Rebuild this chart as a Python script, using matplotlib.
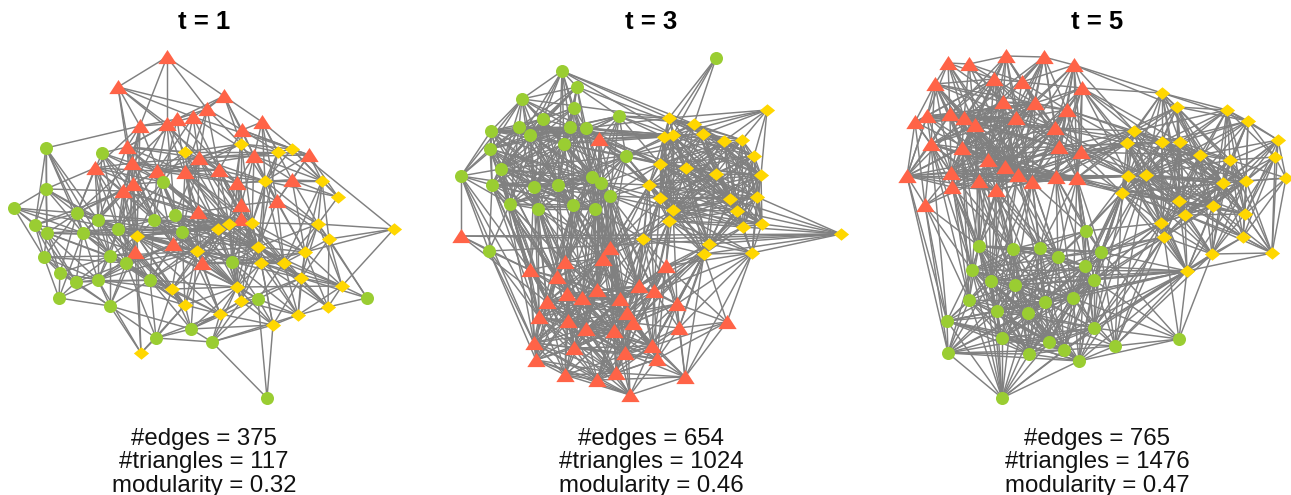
import matplotlib
matplotlib.use('Agg')
import matplotlib.pyplot as plt
from matplotlib.collections import LineCollection

plt.rcParams['font.family'] = ['Liberation Sans', 'DejaVu Sans']

# node layouts (x, y in image pixels), one list per community
t1_red = [(167,57),(118,87),(224,96),(207,109),(193,117),(177,119),(167,124),(140,126),(242,130),(262,122),
          (127,147),(199,158),(254,156),(309,155),(132,163),(95,168),(157,171),(185,172),(219,170),(237,183),
          (292,180),(133,184),(123,191),(277,201),(241,205),(198,212),(241,219),(173,244),(135,252),(202,263)]
t1_yellow = [(241,144),(185,152),(278,152),(292,149),(265,181),(322,181),(338,197),(394,229),(318,224),(329,239),
             (252,223),(229,224),(218,229),(137,236),(197,251),(258,247),(305,252),(261,263),(284,263),(301,278),
             (342,286),(237,287),(172,289),(241,301),(185,305),(328,307),(298,315),(220,314),(273,325),(141,353)]
t1_green = [(46,148),(102,153),(163,182),(46,189),(14,208),(77,213),(98,220),(154,220),(175,215),(35,225),
            (47,233),(83,233),(118,229),(182,232),(44,257),(110,256),(126,263),(232,262),(60,273),(76,282),
            (98,280),(150,280),(59,298),(110,306),(258,299),(367,298),(191,329),(156,338),(212,342),(267,398)]

t3_red = [(599,139),(461,236),(610,248),(603,259),(565,262),(530,270),(666,266),(557,277),(639,286),(654,291),
          (597,290),(567,294),(582,298),(620,299),(547,302),(677,304),(627,313),(539,317),(568,321),(633,323),
          (727,322),(679,328),(586,329),(614,331),(534,343),(652,346),(574,348),(625,353),(536,360),(657,359),
          (616,373),(565,375),(685,377),(597,380),(630,395)]
t3_yellow = [(767,110),(669,118),(694,124),(703,134),(673,135),(664,137),(724,141),(742,140),(754,156),(660,164),
             (686,168),(716,174),(761,175),(649,185),(660,198),(757,197),(730,199),(737,211),(673,210),(669,221),
             (762,224),(743,227),(841,234),(643,239),(709,244),(752,253),(704,254)]
t3_green = [(716,58),(562,71),(577,87),(522,99),(574,108),(619,116),(543,119),(519,127),(570,127),(586,128),
            (491,131),(530,135),(564,144),(490,149),(626,156),(501,169),(461,176),(592,177),(601,183),(492,185),
            (534,187),(558,185),(610,196),(510,204),(573,205),(538,209),(595,209),(489,251)]

t5_red = [(948,63),(969,64),(1006,56),(1044,57),(1074,65),(935,84),(994,79),(1022,82),(1082,88),(1003,102),
          (1035,103),(1067,110),(915,122),(927,116),(950,114),(964,118),(975,125),(1016,118),(1055,128),(931,144),
          (962,148),(1059,147),(1081,152),(988,160),(1005,167),(907,176),(951,173),(1018,175),(979,181),(1032,182),
          (1056,177),(1077,178),(952,187),(996,190),(925,205)]
t5_yellow = [(1162,93),(1177,107),(1227,110),(1248,121),(1134,131),(1127,143),(1162,142),(1180,142),(1278,140),(1200,155),
             (1230,160),(1275,157),(1128,176),(1146,175),(1286,178),(1223,183),(1246,181),(1122,193),(1179,201),(1213,206),
             (1185,215),(1245,214),(1161,223),(1164,237),(1243,237),(1212,254),(1272,253),(1187,271)]
t5_green = [(1086,231),(979,246),(1013,249),(1040,248),(1058,257),(1101,252),(1085,266),(972,270),(991,281),(1015,285),
            (1094,280),(969,300),(1073,298),(1045,302),(997,311),(1028,313),(947,321),(1094,328),(1002,338),(1049,342),
            (1179,339),(1115,346),(1064,350),(948,353),(1029,354),(1079,361),(1002,398)]

# adjacency, first name on a line links to the others (estimated inside the dense parts)
t1_edges = """
r0 r1 r7 r3 r2 r6
r1 r10 r7 r3 r4 r6 r14 r18
r2 r3 r4 r5 r8 r9 r12 y0
r3 r5 r8 r11 r17 r18 y0
r4 r6 r11 r12 r16 r18 y1 y3
r5 r7 r10 r14 r17 r19 g2
r6 r7 r10 r11 r16 r21 r25 y1 g8
r7 r10 r14 r15 r21 r22 g0 g2 g12 y13
r8 r9 r12 r13 r18 r19 y0 y2 y3 r24
r9 y7 r12 y2 r20 y4 r23
r10 r14 r16 r21 g1 g6 g7 y1 y12 r27 r28
r11 r17 r18 r19 r25 y1 y11 y15 g8 g13
r12 r13 r19 r20 r23 y2 y4 y5 y10 r24
r13 r20 y2 y3 y4 y5 y6 r23
r14 r15 r16 r21 r22 g1 g5 g7 y13
r15 r16 r21 r22 g3 g5 g6 g12 g15
r16 r17 r22 r25 r27 g2 g7 g8 y14 g12
r17 r18 r25 r26 y11 g13 y15 y4 r29
r18 r19 r24 r26 y10 y12 y17
r19 r20 r23 r24 r26 y4 y10 y15 g17
r20 r23 y4 y5 y6 y8 y16
r21 r22 r28 g1 g2 g5 g6 g7 g12 g16 r27
r22 g3 g5 g6 g9 g11 g12 r28 g16 y13
r23 y4 y8 y9 y15 y16 y18 r24
r24 r26 r25 y10 y11 y12 y17 r29
r25 r26 r27 r29 g13 y11 y14 g17
r26 y10 y15 y17 y18 r29 g17
r27 r29 g7 g13 y13 y14 g21 g16
r28 g12 g15 g16 y13 g11 g20 g23 y22 y29
r29 y14 y15 y21 y22 y27 g17 g24 y17
g0 g3 g5 g6 g10 g9 g11 g15
g1 g2 g5 g6 g7 g12 r22
g2 g7 g8 g12 g13 y1 y13
g3 g4 g5 g6 g9 g10 g11 g12
g4 g5 g9 g10 g12 g14 g11
g5 g6 g9 g10 g11 g12 g7 g14 g15 g18
g6 g7 g11 g12 g13 g15 g16 y13 g20
g7 g8 g12 g13 y13 y14 y12 g21
g8 g13 y11 y12 y14 g17
g9 g10 g14 g11 g18 g19
g10 g11 g14 g15 g18 g19 g20
g11 g12 g15 g16 g19 g20 g22
g12 g13 g15 g16 y13 g21 y14 g20
g13 y12 y14 y11 g17 g21 y21
g14 g15 g18 g19 g22 g16 g20
g15 g16 g18 g19 g20 g21 g23 y13
g16 g20 g21 g23 y22 y14 g27
g17 y15 y17 y14 y18 y21 y23 g24 y19
g18 g19 g20 g22 g23
g19 g20 g22 g23 g16 g21
g20 g21 g22 g23 y22 y29
g21 y22 y14 y24 g27 y21 g23 g26
g22 g23
g23 g26 y29 g27
g24 y21 y23 y28 y19 y26 y18 g28 g26
g25 y20 y9 y8 y25 y19
g26 g27 g28 y21 y24 y27 y22 y23 y28
g27 g28 y29 y24 y22 y27
g28 g29 y27 y28 y23 y21 y26
g29 y28 g24
y0 y1 y2 y3 y4 y11 y10
y1 y2 y11 y12 y14
y2 y3 y4 y5 y10 y15
y3 y4 y5 y6
y4 y5 y6 y8 y10 y15 y16 y17 y18
y5 y6 y8 y9 y16 y18
y6 y8
y7 y8 y9 y16 y20
y8 y9 y10 y15 y16 y18 y19 y20
y9 y16 y19 y20 y25
y10 y11 y12 y15 y17 y21 y18 y19
y11 y12 y14 y15 y17 y21 y23
y12 y13 y14 y15 y22 y21
y13 y14 y22 y27 y29
y14 y15 y21 y22 y24 y27
y15 y16 y17 y18 y19 y21 y23
y16 y18 y19 y20 y25 y26
y17 y18 y19 y21 y23 y26 y28
y18 y19 y20 y26 y25
y19 y20 y25 y26 y28 y23
y20 y25 y26 y21
y21 y22 y23 y24 y27 y28
y22 y24 y27
y23 y26 y27 y28
y24 y27 y29
y25 y26
y26 y28
y27 y28
r16 r18 r19 y0 y1 y2
r10 r11 r17 y1
r14 r17 r18 r11 y11
r15 y13 g2 g7
r21 r16 r25 y13 y14 y11
r22 r25 y14 y11
r17 r19 y0 y10 y12
r11 r12 y0 y2 y4 y10
r18 y4 y11 y15
r25 y10 y15 y21
r26 y11 y21 y14
g2 y12 y11 r25
g7 r27 y15 y11 y10 y21
g8 y10 y15 y17 y21
g12 y11 y12 y21 y24 r29 g17
g13 y10 y15 y22 y24 y27
y13 y11 y12 y10 y15 y21 y24 g17
y14 y10 y17 y18 g26
g6 y14 g21 y24 y22
g15 y22 y14 y24
g16 y13 y11
y11 y16 y18 y19
y10 y16 y23
y12 y17 y19 y23 y24
g17 y10 y11 y12 y26 y16
y15 y20 y26 y25 y28
y17 y20 y16 y25
g10 g12 y13 g16
g11 y13 g21 g13
g5 y13 r27
g20 r27 y14 y24
g21 y27 y12
"""

t3_edges = """
g0 y1 y2 y4 y5
g1 g2 g3 g4 g6 g8 y1 y4 g12
g2 g4 g5 g6 g8 g9 g12 y3 g17 g3
g3 g6 g7 g10 g11 g8 g12 g15 g13
g4 g6 g8 g9 g11 g12 g17 g21
g5 g9 g12 y2 y5 g14 r0 g22
g6 g7 g8 g11 g12 g15 g20 g21 g24
g7 g10 g11 g12 g15 g19 g20 g23 r0
g8 g9 g11 g12 g17 g18 g21 g24 g26 g14
g9 g12 g14 g17 g18 r0 g21 g22 y5 g26
g10 g13 g16 g15 g19 g11 g12 g20 g23 r0 y4
g11 g12 g15 g17 g19 g20 g21 g23 g25 g24
g12 g14 g15 g17 g18 g20 g21 g22 g24 g25 g26 r0
g13 g15 g16 g19 g20 g23 g17 g21
g14 g17 g18 g22 g26 y9 y13 r0 y5 r2
g15 g16 g19 g20 g21 g23 g25 g17 g24
g16 g19 g23 r1 g27 g7 g3 g20 r5
g17 g18 g21 g22 g24 g25 g26 r2 r3
g18 g21 g22 g24 g26 y13 r2 r3
g19 g20 g23 g21 g25 g27 g24 r5 r7
g20 g21 g23 g24 g25 g26 r4 r7
g21 g24 g25 g26 g22 r3 r4
g22 g24 g26 r2 r3 y13 y14 r13
g23 g25 g24 g27 r5 r7 r14 r4
g24 g25 g26 r4 r3 r11 r12
g25 g26 r4 r5 r7 r11 r14
g26 r2 r3 r8 r10 r12 r13 y23
g27 r1 r5 r17 r24 y22 r28
r0 y9 y5 r2 r3
r1 y22 r5 r14 y23
y0 y1 y2 y3 y6 y7 y8 y12 y4
y1 y2 y3 y4 y5 y9 y10 y14
y2 y3 y4 y5 y6 y7 y10 y11
y3 y4 y5 y6 y7 y8 y10 y11 y12
y4 y5 y9 y10 y13 y14 y18 y19 y6
y5 y9 y10 y13 y14 y18 y19 y16
y6 y7 y8 y10 y11 y12 y15 y16 y17
y7 y8 y11 y12 y15 y16 y20
y8 y11 y12 y15 y16 y17 y20 y21
y9 y10 y13 y14 y18 y19 y11 y16 y24
y10 y11 y14 y16 y17 y18 y19 y13 y24
y11 y12 y14 y15 y16 y17 y18 y21 y24
y12 y15 y16 y17 y20 y21 y25
y13 y14 y18 y19 y23 y24 r2
y14 y18 y19 y23 y24 y26 y16
y15 y16 y17 y20 y21 y22 y25
y16 y17 y18 y20 y21 y24 y25 y26
y17 y18 y20 y21 y22 y24 y25
y18 y19 y23 y24 y26 y21
y19 y23 y24 y26 y21 r6
y20 y21 y22 y25
y21 y22 y24 y25 y26
y22 y25 y23 y24 y26
y23 y24 y26 r2 r6 r15
y24 y25 y26 r6 r15 r21
y25 y26 r32 r15 r20 r21
y26 r6 r15 r20 r32 r21
r2 r3 r8 r10 r13 r12 r16 r19 r23
r3 r4 r8 r10 r11 r12 r13 r16 r22 r23
r4 r5 r7 r10 r11 r12 r14 r17 r18 r13
r5 r7 r14 r17 r24 r11 r28
r6 r8 r9 r13 r15 r16 r21 r19 r25 r20
r7 r11 r12 r14 r17 r18 r10 r22
r8 r9 r10 r13 r15 r16 r19 r23 r25
r9 r13 r15 r16 r19 r21 r25 r27
r10 r11 r12 r13 r16 r18 r22 r23 r26
r11 r12 r14 r17 r18 r22 r26 r24
r12 r13 r14 r16 r18 r22 r23 r26 r27
r13 r16 r19 r22 r23 r25 r27 r30
r14 r17 r18 r22 r24 r26 r28
r15 r16 r19 r21 r25 r20 r29 r32
r16 r19 r22 r23 r25 r27 r29 r30
r17 r18 r24 r26 r28 r22 r31
r18 r22 r24 r26 r28 r31 r30 r23
r19 r23 r25 r27 r29 r30 r21 r32
r20 r21
r21 r25 r29 r32 r27
r22 r23 r26 r27 r30 r31 r33
r23 r26 r27 r30 r33 r25 r34
r24 r26 r28 r31 r33 r30
r25 r27 r29 r30 r32 r33 r34
r26 r27 r28 r30 r31 r33
r27 r29 r30 r33 r34 r32
r28 r31 r33 r30 r34
r29 r30 r32 r34 r33
r30 r31 r33 r34
r31 r33 r34
r32 r33 r34
r33 r34
g3 g9 g17 g21 g20
g4 g7 g15 g20 g24 g18
g5 g8 g12 g18 g17 g11
g6 g17 g18 g13 g10 g23 g25
g7 g8 g9 g13 g17 g21 g24
g10 g8 g9 g21 g24 g25 g17
g11 g9 g13 g18 g26 g22
g13 g8 g9 g24 g25 g18
g15 g8 g9 g18 g22 g26
g19 g8 g12 g17 g18 g26
g20 g8 g9 g17 g18 g22
g23 g12 g17 g21 g26 g18
g14 g21 g24 g12 g15 g20
g1 g11 g15 g21 g17
g2 g11 g15 g21 g7
g5 y1 y4 y9
g9 y4 y1 y9 y13
g14 y4 y10 y14 y18 y3 y6
g8 y5 y4 y9
g12 y5 y9 y13
r0 y4 y13 y14 y10
g22 y9 y18 y19 y23
g18 y9 y14 y18
g10 y5
g7 y5
g3 y1
y2 g1
g23 r17 r11
g24 r2 r7 r10 r14 r13 r17 r18
g25 r2 r3 r10 r17 r12
g26 r4 r7 r11 r16 r22
g22 r4 r8 r10 r9 r16 r23 r12
g21 r2 r7 r11 r10
g20 r3 r5 r11 r14 r10 r17
g19 r4 r11 r14 r17
g15 r7 r17 r14 r24
g16 r17 r24
g13 r5 r14 r7
g17 r4 r8 r10 r13 r12
g18 r4 r8 r9 r13 r16 r10
y13 r3 r8 r9 r10 r13
y14 r2 r8 r9 r13 r16
y23 r3 r8 r9 r10 r13 r16 r19
y26 r8 r9 r16 r19 r25
y24 r8 r9 r19 r25
y25 r6 r9
y18 r2 r6 r8 r9 r15
y19 r2 r8 r9
y2 y9 y14 y16 y17 y12 y8
y3 y9 y13 y14 y15 y16 y17
y4 y11 y12 y16 y17 y8 y24
y5 y11 y12 y17 y24
y6 y9 y13 y14 y18 y19 y20 y21
y7 y9 y10 y14 y17 y18 y21
y8 y9 y10 y14 y18 y19
y9 y12 y15 y17 y20 y21 y26
y10 y12 y15 y20 y21 y26
y11 y13 y19 y20 y26
y12 y13 y14 y18 y19 y26
y13 y15 y16 y17
y14 y15 y17 y20 y21
y15 y18 y19 y24 y26
y16 y19 y22
y17 y19 y26
y18 y20 y25
y19 y20 y25
y1 y6 y7 y8 y11 y12
r2 r4 r7 r11 r14 r18 r22 r26 r27 r30
r3 r7 r14 r18 r26 r27
r4 r8 r16 r22 r23 r26
r5 r10 r12 r18 r22 r26
r7 r13 r16 r23 r26 r28 r24
r8 r11 r12 r18 r22 r27 r29
r9 r10 r12 r22 r23 r30 r29
r10 r14 r17 r24 r27 r25 r19
r11 r13 r16 r23 r27 r28 r30 r31
r12 r17 r19 r24 r25 r28 r30 r31
r13 r14 r17 r18 r26 r29 r33
r14 r16 r23 r27 r30 r31
r16 r18 r26 r33 r34
r17 r23 r27 r30 r33
r18 r19 r25 r27 r33 r34
r19 r22 r26 r33
r22 r24 r25 r28 r29 r34
r23 r24 r28 r29 r31
r24 r27 r34
r25 r26 r31
r26 r29 r34
r6 r27 r29 r23 r22
r15 r23 r27 r22
r30 r32
r20 r25 r29 r32
r0 r4 r7 r10 r8
"""

t5_edges = """
r0 r1 r5 r6 r9 r14 r15 r16 r13
r1 r2 r6 r9 r15 r16 r17 r7
r2 r3 r6 r7 r9 r10 r17 r23
r3 r4 r7 r10 r11 r17 r18 r21
r4 y0 r8 r10 r11 r18 r21 r7
r5 r6 r12 r13 r14 r15 r9 r16 r19
r6 r7 r9 r10 r15 r16 r17 r23
r7 r9 r10 r11 r17 r18 r21 r8
r8 r10 r11 r18 r22 r21 y0 y4 r31 y6 y7
r9 r10 r16 r17 r20 r23 r24 r15 r18
r10 r11 r17 r18 r21 r23 r24 r27
r11 r17 r18 r21 r22 r30 r31 y4
r12 r13 r14 r19 r25 r26 r34 r15
r13 r14 r15 r16 r19 r20 r26 r25
r14 r15 r16 r19 r20 r23 r26 r28
r15 r16 r17 r20 r23 r24 r26
r16 r17 r20 r23 r24 r27 r28 r33 r26 g1
r17 r18 r20 r21 r23 r24 r27 r29
r18 r21 r22 r24 r27 r29 r30 r31 y5
r19 r20 r25 r26 r28 r32 r34
r20 r23 r24 r26 r28 r32 r33 r27 g7
r21 r22 r24 r27 r29 r30 r31 y4
r22 r29 r30 r31 y5 y12 y17 y1
r23 r24 r26 r27 r28 r29 r33 g3
r24 r27 r28 r29 r30 r33 g2 g9
r25 r26 r32 r34 y12
r26 r28 r32 r33 r34 g8 g1
r27 r28 r29 r30 r33 r31 g3 g13
r28 r29 r32 r33 r34 g1 g7 g8
r29 r30 r31 r33 g3 g2 g4 g9 g12
r30 r31 g0 g3 y12 y5 y13 g5
r31 g0 y12 y17 g6 g5 g10
r32 r33 r34 g1 g7
r33 g1 g2 g9 g8 g3 g4 g14
r34 g16 g23 g7
y0 y1 y2 y3 y4 y5 y6 y7 y18
y1 y2 y3 y6 y7 y4 y9 y10 y13
y2 y3 y8 y7 y9 y10 y11 y15
y3 y8 y9 y10 y11 y16 y15
y4 y5 y6 y7 y12 y13 y17 y18
y5 y6 y7 y12 y13 y17 y18 y22
y6 y7 y9 y12 y13 y18 y20 y22
y7 y9 y10 y13 y15 y18 y19 y20
y8 y10 y11 y14 y16 y21 y26
y9 y10 y13 y15 y16 y18 y19 y20 y21
y10 y11 y15 y16 y19 y21 y24 y14
y11 y14 y16 y21 y24 y26
y12 y13 y17 y18 y20 y22 y23
y13 y17 y18 y19 y20 y22 y23 y27
y14 y16 y21 y26 y24
y15 y16 y18 y19 y20 y21 y24 y25
y16 y19 y21 y24 y25 y26
y17 y18 y20 y22 y23 g5 g0
y18 y19 y20 y22 y23 y25 y27
y19 y20 y21 y24 y25 y27
y20 y22 y23 y25 y27 y21
y21 y24 y25 y26
y22 y23 y27 g5 y25
y23 y25 y27 g5 g6 g10 g21
y24 y25 y26 y27
y25 y26 y27 g20
y26 y27
y27 g6 g10 g5 g21 g17 g7
g0 g3 g4 g5 g6 g10 g2
g1 g2 g7 g8 g9 g3 g11 g14 g26
g2 g3 g4 g7 g8 g9 g13 g15 g14
g3 g4 g6 g9 g13 g15 g19 g12
g4 g5 g6 g10 g12 g13 g15 g19
g5 g6 g10 g12 g17 g21 g19
g6 g10 g12 g13 g17 g22 g19
g7 g8 g9 g11 g14 g16 g18 g23 g26
g8 g9 g11 g14 g15 g18 g16 g24 g26
g9 g13 g14 g15 g18 g19 g11 g24 g26
g10 g12 g13 g17 g21 g22 g25
g11 g14 g15 g16 g18 g23 g24 g26
g12 g13 g15 g17 g19 g22 g25 g21
g13 g15 g18 g19 g22 g24 g17 g25
g14 g15 g16 g18 g23 g24 g26
g15 g18 g19 g22 g24 g25 g26
g16 g18 g23 g24 g26 g22
g17 g20 g21 g22 g25 g19 g24
g18 g23 g24 g26 g19 g22
g19 g22 g24 g25 g26 g21
g20 g21 g25 y27 g12 g10 g5
g21 g22 g25
g22 g24 g25 g26
g23 g24 g25 g26 g22
g24 g25 g26
g25 g26
r14 r17 r18 r21 r24 r27 r29
r15 r18 r21 r27 r28 r29 r30
r16 r18 r19 r21 r22 r29 r30 r32
r20 r18 r21 r29 r30 r31
r23 r18 r21 r22 r30 r31 r32
r24 r11 r12 r13 r19 r26 r32 r31
r28 r9 r10 r17 r18 r21 r30 r31
r33 r9 r10 r17 r18 r21 r29 r30 r24
r26 r9 r10 r17 r27 r29 r30
r19 r9 r17 r23 r24 r27 r33
r27 r0 r1 r5 r6 r9 r11 r22
r29 r0 r2 r6 r10 r11 r22
r17 r5 r12 r13 r22 r25 r32
r10 r5 r12 r13 r14 r15 r16 r19 r20
r3 r9 r15 r16 r23 r24 r27
r2 r14 r15 r16 r18 r20
r6 r12 r13 r14 r20 r24 r18 r21
r5 r20 r23 r24 r26 r28
r25 r13 r14 r15 r20 r23 r24 r28 r33
r22 r17 r23 r24 r27
r11 r23 r24 r27 r29 r9
r8 r17 r24 r27 r30
r4 r17 r24 r22 r31
r8 y5 y12 y13
r4 y4 y1
r11 y5 y6 y12
r18 y4 y12 y13 y6
r21 y5 y12 y17 y6
r22 y4 y6 y13 y18 y9
r30 y4 y17 y18
r31 y4 y5 y13 y18 y20
r27 y5 y12
r29 y5 y12 y13
y4 y9 y15 y19 y20 y22 y16
y5 y9 y15 y19 y20 y16 y27
y6 y10 y15 y16 y19 y21 y23 y17
y7 y12 y16 y21 y22 y17 y23
y0 y9 y10 y12 y13 y20 y15
y1 y5 y12 y15 y16 y18 y19 y20
y2 y4 y6 y13 y16 y18 y19 y21
y3 y6 y7 y13 y18 y19 y21
y9 y12 y17 y22 y23 y25
y10 y13 y18 y20 y22 y25 y26
y13 y15 y16 y21 y24 y25
y12 y15 y16 y19 y25 y27
y15 y17 y22 y23 y27 y26 y14
y16 y17 y18 y20 y22 y23 y27
y18 y21 y24 y26
y19 y22 y23 y26
y8 y9 y15 y19 y20
y17 y19 y21 y27
y20 y24 y26
y11 y15 y19 y25
g1 g4 g12 g13 g15 g18 g24
g2 g5 g6 g11 g12 g18 g19 g24
g3 g5 g7 g8 g10 g14 g18 g22 g24
g4 g7 g8 g9 g14 g17 g18 g22 g24
g5 g9 g13 g15 g22 g25
g6 g8 g9 g14 g15 g24 g25
g7 g12 g13 g15 g19 g24
g8 g12 g13 g19 g22 g23
g9 g10 g12 g16 g17 g22 g23 g25
g10 g14 g15 g18 g19 g24
g11 g13 g19 g22
g12 g14 g18 g24
g13 g14 g16 g23 g26
g14 g17 g19 g22 g25
g15 g16 g17 g21 g23
g16 g19 g25
g18 g25 g17
g17 g26 g23
r32 g8 g2
r33 g7 g13 g15
r28 g2 g3 g9
r29 g0 g8 g13
r30 g4 g12 g6
r31 g3 g4 g12 g17
r26 g7 g11 g2
r27 g1 g4 g8 g14
r24 g1 g4 g8
r23 g1 g8
r20 g1 g9 g11
r19 g7 g11 g16
r25 g16 g23
r34 g11 g1
y12 g0 g5 g6 g10 g17
y17 g4 g6 g10 g12 g21
y13 g5 g10 g17 g21
y22 g0 g6 g10 g21 g12 g17
y23 g12 g17 g20 g25 g4
y27 g12 g19 g25 g22 g16 g8 g9 g14
y25 g21 g17
"""

titles = ['t = 1', 't = 3', 't = 5']
edge_counts = [375, 654, 765]
triangle_counts = [117, 1024, 1476]
modularity = [0.32, 0.46, 0.47]
centers = [204, 651, 1097]

EDGE_GREY = '#808080'
RED = '#FF6347'
YELLOW = '#FFD700'
GREEN = '#9ACD32'

# flatter triangle and diamond than the stock markers
TRI = [(-1, -0.72), (1, -0.72), (0, 0.82)]
DIA = [(-1, 0), (0, 0.82), (1, 0), (0, -0.82)]


def parse_edges(text, nodes):
    segs = []
    for line in text.strip().splitlines():
        names = line.split()
        a = nodes[names[0][0]][int(names[0][1:])]
        for name in names[1:]:
            segs.append((a, nodes[name[0]][int(name[1:])]))
    return segs


fig = plt.figure(figsize=(12.91, 4.95), dpi=100)
ax = fig.add_axes([0, 0, 1, 1])
ax.set_xlim(0, 1291)
ax.set_ylim(495, 0)
ax.axis('off')

panels = [
    (t1_red, t1_yellow, t1_green, t1_edges),
    (t3_red, t3_yellow, t3_green, t3_edges),
    (t5_red, t5_yellow, t5_green, t5_edges),
]

for i, (red, yellow, green, edges) in enumerate(panels):
    segs = parse_edges(edges, {'r': red, 'y': yellow, 'g': green})
    ax.add_collection(LineCollection(segs, colors=EDGE_GREY, linewidths=1.05, zorder=1))

    ax.scatter(*zip(*red), marker=TRI, s=175, color=RED, linewidths=0, zorder=2)
    ax.scatter(*zip(*yellow), marker=DIA, s=120, color=YELLOW, linewidths=0, zorder=2)
    ax.scatter(*zip(*green), marker='o', s=88, color=GREEN, linewidths=0, zorder=2)

    ax.text(centers[i], 22, titles[i], ha='center', va='center', fontsize=18.5, fontweight='bold')
    ax.text(centers[i], 439, f'#edges = {edge_counts[i]}', ha='center', va='center', fontsize=17.3, color='#111111')
    ax.text(centers[i], 462, f'#triangles = {triangle_counts[i]}', ha='center', va='center', fontsize=17.3, color='#111111')
    ax.text(centers[i], 486, f'modularity = {modularity[i]}', ha='center', va='center', fontsize=17.3, color='#111111')

fig.savefig('out.png', dpi=100)
